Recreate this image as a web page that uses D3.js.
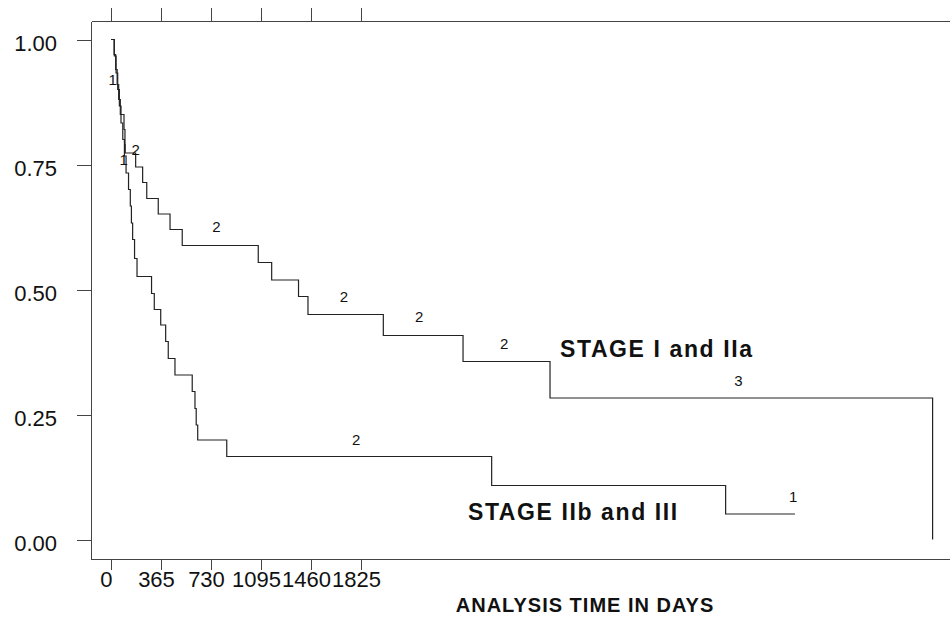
<!DOCTYPE html>
<html>
<head>
<meta charset="utf-8">
<script src="https://cdn.jsdelivr.net/npm/d3@7"></script>
<style>
    body { margin: 0; background: #fff; }
    svg { display: block; font-family: "Liberation Sans", Arial, sans-serif; }
    .axis path, .axis line { stroke: #444; stroke-width: 1; shape-rendering: crispEdges; }
    .axis text { fill: #111; }
    .curve { fill: none; stroke: #222; stroke-width: 1.2; }
</style>
</head>
<body>
<svg width="950" height="621"></svg>
<script>
// STAGE I and IIa (upper curve): days, survival
const upperDays = [0, 23, 34, 45, 56, 68, 95, 102, 104, 180, 231, 261, 345, 431, 520, 1075, 1173, 1369, 1438, 1988, 2570, 3205, 5998];
const upperSurv = [1.0, 0.97, 0.94, 0.91, 0.88, 0.85, 0.82, 0.79, 0.773, 0.745, 0.714, 0.682, 0.651, 0.62, 0.588, 0.554, 0.519, 0.486, 0.45, 0.408, 0.356, 0.283, 0.0];

// STAGE IIb and III (lower curve)
const lowerDays = [0, 24, 37, 49, 61, 73, 86, 98, 110, 128, 141, 149, 158, 172, 190, 296, 316, 363, 399, 418, 467, 593, 613, 622, 633, 845, 2779, 4487, 4993];
const lowerSurv = [1.0, 0.967, 0.933, 0.9, 0.867, 0.833, 0.8, 0.767, 0.733, 0.7, 0.667, 0.633, 0.6, 0.562, 0.526, 0.492, 0.46, 0.429, 0.396, 0.362, 0.329, 0.296, 0.262, 0.229, 0.199, 0.166, 0.108, 0.051, 0.051];

// censor count labels: [day, survival, text]
const countLabels = [
    [13, 0.91, '1'], [92, 0.75, '1'], [180, 0.77, '2'],
    [770, 0.615, '2'], [1700, 0.475, '2'], [2250, 0.435, '2'], [2870, 0.381, '2'],
    [4580, 0.308, '3'], [1790, 0.19, '2'], [4980, 0.075, '1']
];

const xTicks = [0, 365, 730, 1095, 1460, 1825];
const yTicks = [0, 0.25, 0.5, 0.75, 1.0];
const xDomain = [-146, 6125];
const yDomain = [-0.039, 1.037];

const groupLabels = [
    [3278, 0.365, 'STAGE I and IIa'],
    [2606, 0.039, 'STAGE IIb and III']
];
const xTitle = 'ANALYSIS TIME IN DAYS';

var svg = d3.select('svg');

var x = d3.scaleLinear().domain(xDomain).range([91, 950]);
var y = d3.scaleLinear().domain(yDomain).range([559, 21]);

// AXES

var gBottom = svg.append('g')
    .attr('class', 'axis')
    .attr('transform', 'translate(0,559)')
    .call(d3.axisBottom(x).tickValues(xTicks).tickSize(11).tickSizeOuter(0).tickFormat(d3.format('d')));
gBottom.selectAll('text')
    .attr('font-size', 22)
    .attr('dx', -5)
    .attr('dy', '0.62em');

svg.append('g')
    .attr('class', 'axis')
    .attr('transform', 'translate(0,21)')
    .call(d3.axisTop(x).tickValues(xTicks).tickSize(13).tickSizeOuter(0).tickFormat(''));

var gLeft = svg.append('g')
    .attr('class', 'axis')
    .attr('transform', 'translate(91,0)')
    .call(d3.axisLeft(y).tickValues(yTicks).tickSize(14).tickSizeOuter(0).tickFormat(d3.format('.2f')));
gLeft.selectAll('text')
    .attr('font-size', 22)
    .attr('x', -34)
    .attr('dy', '0.5em');

// CURVES

var line = d3.line()
    .x(d => x(d[0]))
    .y(d => y(d[1]))
    .curve(d3.curveStepAfter);

svg.append('path')
    .attr('class', 'curve')
    .attr('d', line(d3.zip(lowerDays, lowerSurv)));

svg.append('path')
    .attr('class', 'curve')
    .attr('d', line(d3.zip(upperDays, upperSurv)));

// LABELS

svg.append('g').selectAll('text')
    .data(countLabels)
    .join('text')
    .attr('x', d => x(d[0]))
    .attr('y', d => y(d[1]))
    .attr('text-anchor', 'middle')
    .attr('font-size', 15)
    .attr('fill', '#111')
    .text(d => d[2]);

svg.append('g').selectAll('text')
    .data(groupLabels)
    .join('text')
    .attr('x', d => x(d[0]))
    .attr('y', d => y(d[1]))
    .attr('font-size', 23)
    .attr('font-weight', 'bold')
    .attr('letter-spacing', 1.6)
    .attr('fill', '#111')
    .text(d => d[2]);

svg.append('text')
    .attr('x', 585)
    .attr('y', 612)
    .attr('text-anchor', 'middle')
    .attr('font-size', 20)
    .attr('font-weight', 'bold')
    .attr('letter-spacing', 1)
    .attr('fill', '#111')
    .text(xTitle);
</script>
</body>
</html>
